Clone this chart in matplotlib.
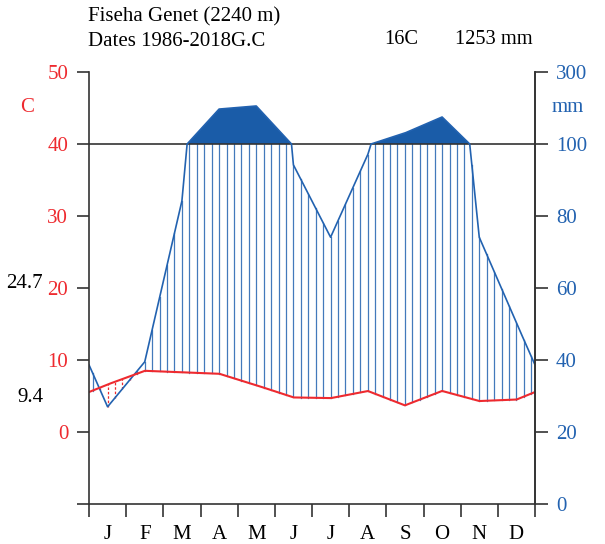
import numpy as np
from matplotlib import pyplot as plt

# Climate data
months = ['J', 'F', 'M', 'A', 'M', 'J', 'J', 'A', 'S', 'O', 'N', 'D']
temp = [6.6, 8.5, 8.3, 8.1, 6.5, 4.8, 4.7, 5.7, 3.7, 5.7, 4.3, 4.5]
prec = [27.0, 39.5, 84.2, 197.0, 205.6, 94.2, 74.1, 97.0, 130.5, 175.0, 74.1, 50.3]

station = 'Fiseha Genet (2240 m)'
period = 'Dates 1986-2018G.C'
mean_temp_label = '16C'
total_prec_label = '1253 mm'
tmax_label = '24.7'
tmin_label = '9.4'

temp_ticks = [-10, 0, 10, 20, 30, 40, 50]
prec_ticks = [0, 20, 40, 60, 80, 100, 300]

RED = '#ee2a2f'
BLUE = '#2262b0'
DARK = '#1a5ca8'
FONT = 'Liberation Serif'

plt.rcParams['font.family'] = FONT


def p2y(p):
    # precipitation (mm) -> temperature axis units
    p = np.asarray(p, dtype=float)
    return np.where(p <= 100, p / 2.0 - 10, 40 + (p - 100) / 20.0)


# month centres plus the wrapped end points
xm = np.arange(12) + 0.5
xs = np.concatenate([[0], xm, [12]])
t_ends = (temp[0] + temp[-1]) / 2
p_ends = (prec[0] + prec[-1]) / 2
ts = np.concatenate([[t_ends], temp, [t_ends]])
ps = np.concatenate([[p_ends], prec, [p_ends]])

xf = np.linspace(0, 12, 2401)
tf = np.interp(xf, xs, ts)
pf = np.interp(xf, xs, ps)
yf = p2y(pf)

fig = plt.figure(figsize=(6.05, 5.44), dpi=100)
ax = fig.add_axes([89 / 605, 40 / 544, 446 / 605, 432 / 544])

# wet months hatching / dry months hatching
xh = np.arange(0.1, 12, 0.2)
th = np.interp(xh, xs, ts)
ph = p2y(np.minimum(np.interp(xh, xs, ps), 100))
for x, t, p in zip(xh, th, ph):
    if p > t:
        ax.plot([x, x], [t, p], color=BLUE, lw=0.9, alpha=0.85)
    else:
        ax.plot([x, x], [p, t], color=RED, lw=0.9, ls=(0, (2, 1.5)))

# very wet part above 100 mm
ax.fill_between(xf, 40, yf, where=pf > 100, color=DARK, lw=0, interpolate=True)

ax.axhline(40, color='#333333', lw=1.2)
ax.plot(xf, yf, color=BLUE, lw=1.2)
ax.plot(xf, tf, color=RED, lw=1.5)

ax.set_xlim(0, 12)
ax.set_ylim(-10, 50)
ax.spines['top'].set_visible(False)
for s in ['left', 'right', 'bottom']:
    ax.spines[s].set_color('#333333')
    ax.spines[s].set_linewidth(1.2)

ax.set_xticks(np.arange(13))
ax.set_xticklabels([])
ax.set_xticks(xm, minor=True)
ax.set_xticklabels(months, minor=True, fontsize=15)
ax.tick_params(axis='x', which='minor', length=0, pad=15)
ax.tick_params(axis='x', which='major', length=9, width=1.2, color='#333333')

ax.set_yticks(temp_ticks)
ax.set_yticklabels([''] + [str(v) for v in temp_ticks[1:]], fontsize=15, color=RED)
ax.tick_params(axis='y', length=9, width=1.2, color='#333333', pad=6)

ax2 = ax.twinx()
ax2.set_ylim(-10, 50)
ax2.set_yticks(p2y(prec_ticks))
ax2.set_yticklabels([str(v) for v in prec_ticks], fontsize=15, color=BLUE)
ax2.tick_params(axis='y', length=9, width=1.2, color='#333333', pad=6)
for s in ['top', 'left', 'bottom']:
    ax2.spines[s].set_visible(False)
ax2.spines['right'].set_color('#333333')
ax2.spines['right'].set_linewidth(1.2)


def ftext(x, y, s, **kw):
    fig.text(x / 605, 1 - y / 544, s, va='center', **kw)


ftext(88, 17, station, fontsize=15)
ftext(88, 42, period, fontsize=15)
ftext(384, 40, mean_temp_label, fontsize=14.7)
ftext(455, 40, total_prec_label, fontsize=14.7)
ftext(27, 108, 'C', fontsize=15, color=RED, ha='center')
ftext(568, 108, 'mm', fontsize=15, color=BLUE, ha='center')
ftext(43, 284, tmax_label, fontsize=15, ha='right')
ftext(43, 398, tmin_label, fontsize=15, ha='right')

fig.savefig('out.png', dpi=100)
